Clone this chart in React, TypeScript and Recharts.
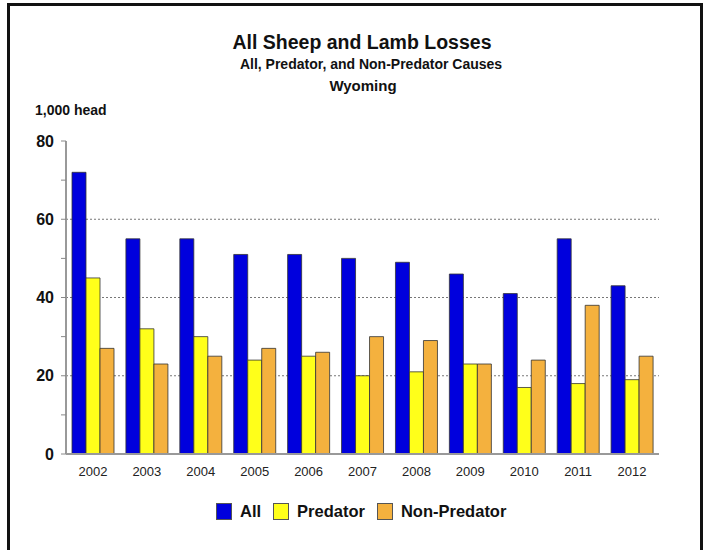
import React from 'react';
import { BarChart, Bar, XAxis, YAxis, CartesianGrid } from 'recharts';

const years = ['2002', '2003', '2004', '2005', '2006', '2007', '2008', '2009', '2010', '2011', '2012'];
const allLosses = [72, 55, 55, 51, 51, 50, 49, 46, 41, 55, 43];
const predatorLosses = [45, 32, 30, 24, 25, 20, 21, 23, 17, 18, 19];
const nonPredatorLosses = [27, 23, 25, 27, 26, 30, 29, 23, 24, 38, 25];
const yTicks = [0, 10, 20, 30, 40, 50, 60, 70, 80];
const gridValues = [20, 40, 60];

const series = [
  { key: 'all', name: 'All', color: '#0000DD', values: allLosses },
  { key: 'predator', name: 'Predator', color: '#FFFF1A', values: predatorLosses },
  { key: 'nonPredator', name: 'Non-Predator', color: '#F4B13E', values: nonPredatorLosses },
];

const data = years.map((year, i) => {
  const row: Record<string, string | number> = { year };
  series.forEach((s) => {
    row[s.key] = s.values[i];
  });
  return row;
});

const FONT = 'Arial, "Liberation Sans", Helvetica, sans-serif';

export default function App() {
  return (
    <div style={{ position: 'absolute', left: 0, top: 0, width: 707, height: 550, background: '#fff', overflow: 'hidden', fontFamily: FONT }}>
      <div style={{ position: 'absolute', left: 7, top: 3, width: 690, height: 600, border: '3px solid #111' }} />
      <div style={{ position: 'absolute', left: 0, width: 724, top: 31, textAlign: 'center', fontSize: 19.5, fontWeight: 'bold', color: '#111' }}>
        All Sheep and Lamb Losses
      </div>
      <div style={{ position: 'absolute', left: 0, width: 742, top: 56, textAlign: 'center', fontSize: 14, fontWeight: 'bold', color: '#111' }}>
        All, Predator, and Non-Predator Causes
      </div>
      <div style={{ position: 'absolute', left: 0, width: 726, top: 77, textAlign: 'center', fontSize: 15, fontWeight: 'bold', color: '#111' }}>
        Wyoming
      </div>
      <div style={{ position: 'absolute', left: 35, top: 102, fontSize: 14, fontWeight: 'bold', color: '#111' }}>
        1,000 head
      </div>
      <div style={{ position: 'absolute', left: 0, top: 0 }}>
        <BarChart
          width={707}
          height={550}
          data={data}
          margin={{ top: 141, right: 48, bottom: 66, left: 16 }}
          barCategoryGap={6}
          barGap={0}
        >
          <CartesianGrid
            horizontal={true}
            vertical={false}
            horizontalValues={gridValues}
            stroke="#777"
            strokeDasharray="2 2"
          />
          <XAxis
            dataKey="year"
            height={30}
            axisLine={{ stroke: '#999', strokeWidth: 2 }}
            tickLine={false}
            tick={{ fontSize: 13, fill: '#222', fontFamily: FONT }}
            tickMargin={7}
            interval={0}
          />
          <XAxis xAxisId="top" orientation="top" dataKey="year" height={0} tick={false} tickLine={false} axisLine={{ stroke: '#999', strokeWidth: 1.5 }} />
          <YAxis
            width={50}
            domain={[0, 80]}
            ticks={yTicks}
            interval={0}
            axisLine={{ stroke: '#999', strokeWidth: 2 }}
            tickLine={{ stroke: '#888' }}
            tickSize={5}
            tickMargin={7}
            tickFormatter={(v: number) => (v % 20 === 0 ? String(v) : '')}
            tick={{ fontSize: 16, fontWeight: 'bold', fill: '#111', fontFamily: FONT }}
          />
          <YAxis yAxisId="right" orientation="right" width={0} domain={[0, 80]} tick={false} tickLine={false} axisLine={{ stroke: '#999', strokeWidth: 1.5 }} />
          {series.map((s) => (
            <Bar key={s.key} dataKey={s.key} name={s.name} fill={s.color} stroke="#333" strokeWidth={0.8} isAnimationActive={false} />
          ))}
        </BarChart>
      </div>
      <div style={{ position: 'absolute', left: 216, top: 502, display: 'flex', alignItems: 'center', fontSize: 16.5, fontWeight: 'bold', color: '#111' }}>
        {series.map((s) => (
          <div key={s.key} style={{ display: 'flex', alignItems: 'center', marginRight: 12 }}>
            <span style={{ display: 'inline-block', width: 14, height: 15, background: s.color, border: '1px solid #555', marginRight: 8 }} />
            <span>{s.name}</span>
          </div>
        ))}
      </div>
    </div>
  );
}
